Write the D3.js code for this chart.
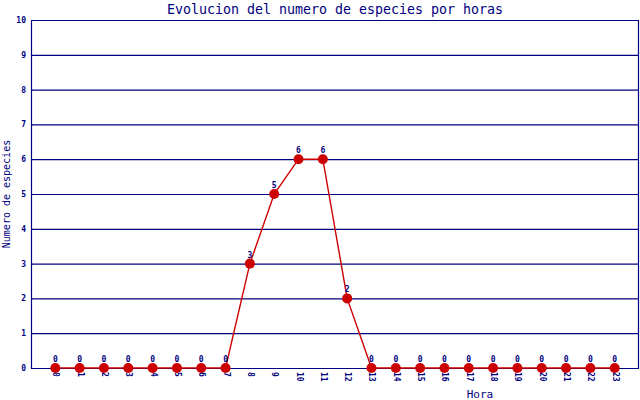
<!DOCTYPE html>
<html>
<head>
<meta charset="utf-8">
<script src="https://cdn.jsdelivr.net/npm/d3@7"></script>
<style>
  body { margin: 0; background: #fff; }
  text { font-family: "DejaVu Sans Mono", monospace; fill: #000080; }
</style>
</head>
<body>
<svg id="chart" width="640" height="400"></svg>
<script>
"use strict";

var horas = d3.range(0, 24);
var especies = [0, 0, 0, 0, 0, 0, 0, 0, 3, 5, 6, 6, 2, 0, 0, 0, 0, 0, 0, 0, 0, 0, 0, 0];
var yTicks = [0, 1, 2, 3, 4, 5, 6, 7, 8, 9, 10];

var frame = { l: 31, r: 639, t: 20, b: 368 };
var navy = "#000080", red = "#cc0000";

var svg = d3.select("#chart");

var x = d3.scaleLinear().domain([-1, 24]).range([frame.l, frame.r]);
var y = d3.scaleLinear().domain([0, 10]).range([frame.b, frame.t]);

// grid lines
svg.append("g")
  .selectAll("line")
  .data(yTicks)
  .join("line")
  .attr("x1", frame.l)
  .attr("x2", frame.r)
  .attr("y1", function(d) { return y(d) + 0.5; })
  .attr("y2", function(d) { return y(d) + 0.5; })
  .attr("stroke", navy)
  .attr("stroke-width", 1.2);

// frame sides
svg.append("line")
  .attr("x1", frame.l + 0.5).attr("x2", frame.l + 0.5)
  .attr("y1", frame.t).attr("y2", frame.b + 1)
  .attr("stroke", navy).attr("stroke-width", 1.2);
svg.append("line")
  .attr("x1", frame.r - 0.5).attr("x2", frame.r - 0.5)
  .attr("y1", frame.t).attr("y2", frame.b + 1)
  .attr("stroke", navy).attr("stroke-width", 1.2);

// y tick labels
svg.append("g")
  .selectAll("text")
  .data(yTicks)
  .join("text")
  .attr("x", frame.l - 5)
  .attr("y", function(d) { return y(d) + 3; })
  .attr("text-anchor", "end")
  .style("font-size", "8px")
  .style("font-weight", "bold")
  .text(function(d) { return d; });

// x tick labels, rotated
svg.append("g")
  .selectAll("text")
  .data(horas)
  .join("text")
  .attr("transform", function(d) { return "translate(" + (x(d) - 2) + "," + (frame.b + 4) + ") rotate(90)"; })
  .attr("text-anchor", "start")
  .style("font-size", "8px")
  .style("font-weight", "bold")
  .text(function(d) { return d; });

// line
var line = d3.line()
  .x(function(d, i) { return x(horas[i]); })
  .y(function(d) { return y(d); });

svg.append("path")
  .datum(especies)
  .attr("d", line)
  .attr("fill", "none")
  .attr("stroke", red)
  .attr("stroke-width", 1.4);

// markers
svg.append("g")
  .selectAll("circle")
  .data(especies)
  .join("circle")
  .attr("cx", function(d, i) { return x(horas[i]); })
  .attr("cy", function(d) { return y(d); })
  .attr("r", 5)
  .attr("fill", red);

// value labels
svg.append("g")
  .selectAll("text")
  .data(especies)
  .join("text")
  .attr("x", function(d, i) { return x(horas[i]); })
  .attr("y", function(d) { return y(d) - 6; })
  .attr("text-anchor", "middle")
  .style("font-size", "8px")
  .style("font-weight", "bold")
  .text(function(d) { return d; });

// titles
svg.append("text")
  .attr("x", 335)
  .attr("y", 14)
  .attr("text-anchor", "middle")
  .style("font-size", "13.3px")
  .text("Evolucion del numero de especies por horas");

svg.append("text")
  .attr("x", 480)
  .attr("y", 398)
  .attr("text-anchor", "middle")
  .style("font-size", "11px")
  .text("Hora");

svg.append("text")
  .attr("transform", "translate(10,194) rotate(-90)")
  .attr("text-anchor", "middle")
  .style("font-size", "10px")
  .text("Numero de especies");
</script>
</body>
</html>
